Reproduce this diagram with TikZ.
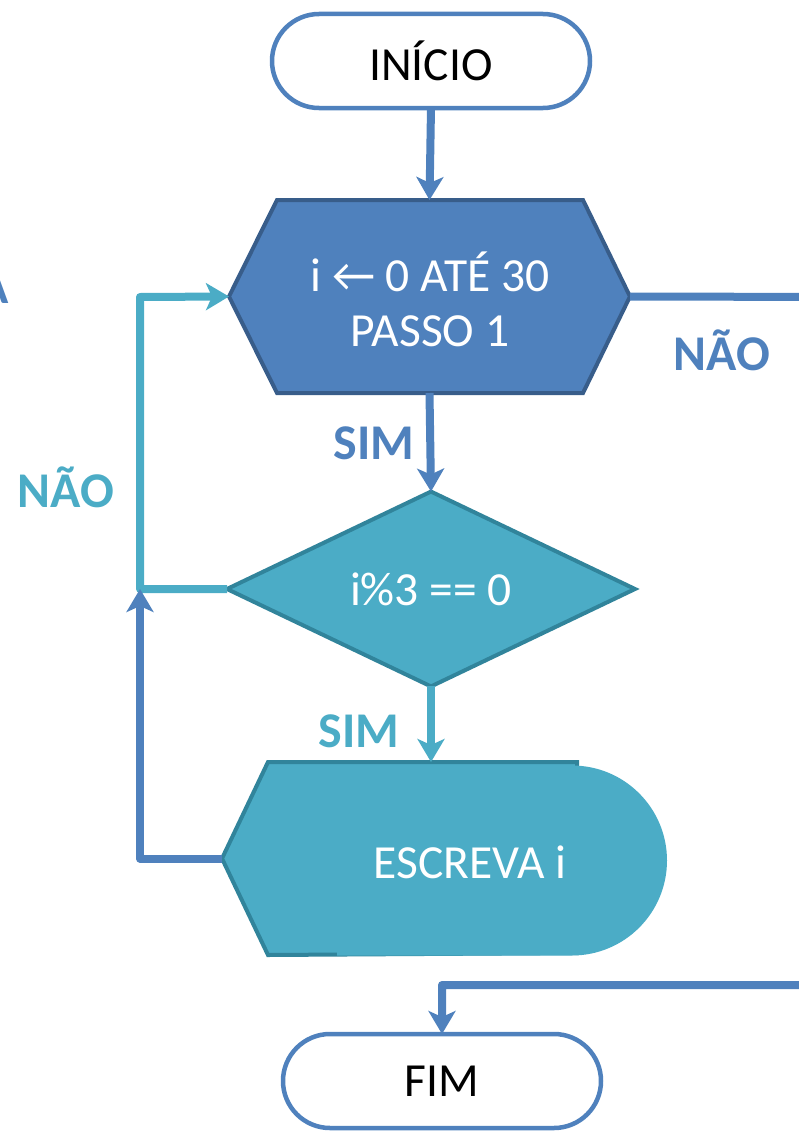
\documentclass[tikz,border=0pt]{standalone}
\usepackage{fontspec}
\setmainfont{Carlito}
\usetikzlibrary{shapes.geometric,shapes.misc,arrows.meta}
\definecolor{cblue}{HTML}{4F81BD}
\definecolor{cbluedark}{HTML}{385D8A}
\definecolor{cteal}{HTML}{4BACC6}
\definecolor{ctealdark}{HTML}{31849B}
\begin{document}
\begin{tikzpicture}[x=1pt,y=-1pt,
  txt/.style={font=\fontsize{47.5}{55}\selectfont},
  lbl/.style={font=\fontsize{50}{56}\selectfont\bfseries, inner sep=0pt},
  term/.style={rounded rectangle, draw=cblue, line width=4.5pt, fill=white,
    minimum width=318pt, minimum height=94pt, inner sep=0pt, outer sep=0pt, txt},
  box/.style={rectangle, draw=none, inner sep=0pt, outer sep=0pt},
  conn/.style={line width=8pt, line join=round,
    -{Stealth[length=23pt,width=27pt,inset=6pt]}}
]
\useasboundingbox (0,0) rectangle (799,1132);
\clip (0,0) rectangle (799,1132);

% partial letter at left edge
\node[lbl, text=cblue, anchor=base east] (edgeA) at (9,303) {A};

% INICIO
\node[term] (ini) at (431,61) {INÍCIO};

% hexagon (loop)
\node[box, minimum width=401pt, minimum height=193pt] (hx) at (429.5,296.5) {};
\filldraw[fill=cblue, draw=cbluedark, line width=4pt, line join=miter]
  (hx.west) -- ([xshift=48pt]hx.north west) -- ([xshift=-47pt]hx.north east)
  -- (hx.east) -- ([xshift=-47pt]hx.south east) -- ([xshift=48pt]hx.south west) -- cycle;
\node[txt, text=white, align=center] (hxt) at (430,299) {i ← 0 ATÉ 30\\PASSO 1};

% diamond
\node[diamond, draw=ctealdark, fill=cteal, line width=4pt, minimum width=408pt,
  minimum height=192pt, inner sep=0pt, outer sep=0pt, txt, text=white] (dm) at (431,589) {i\%3 == 0};

% display
\node[box, minimum width=445pt, minimum height=193pt] (d) at (444.5,858.5) {};
\filldraw[fill=cteal, draw=ctealdark, line width=4pt, line join=miter]
  (d.west) -- ([xshift=46pt]d.north west) -- (577,762) -- (577,953)
  -- ([xshift=46pt]d.south west) -- cycle;
\node[rounded rectangle, rounded rectangle west arc=none, fill=cteal,
  minimum width=330pt, minimum height=190pt, inner sep=0pt] (dr) at (502,860.5) {};
\node[txt, text=white] (dt) at (470,862) {ESCREVA i};

% FIM
\node[term] (fim) at (442,1081) {FIM};

% coordinates
\coordinate (loopT) at (140,297);
\coordinate (loopB) at (140,589);
\coordinate (rt) at (840,297);
\coordinate (rb) at (840,985);

% connectors
\draw[conn, cblue] (ini.south) -- (hx.north);
\draw[conn, cblue] (hx.south) -- (dm.north);
\draw[conn, cteal] (dm.south) -- (dm.south |- d.north);
\draw[conn, cteal] (dm.west) -| (loopT) -- (hx.west);
\draw[conn, cblue] (d.west) -| (loopB);
\draw[conn, cblue] (hx.east) -- (rt) -- (rb) -| (fim.north);

% labels
\node[lbl, text=cblue] (sim1) at (374,443) {SIM};
\node[lbl, text=cteal] (sim2) at (359,731) {SIM};
\node[lbl, text=cteal] (nao1) at (66,487) {NÃO};
\node[lbl, text=cblue] (nao2) at (722,350) {NÃO};
\end{tikzpicture}
\end{document}
